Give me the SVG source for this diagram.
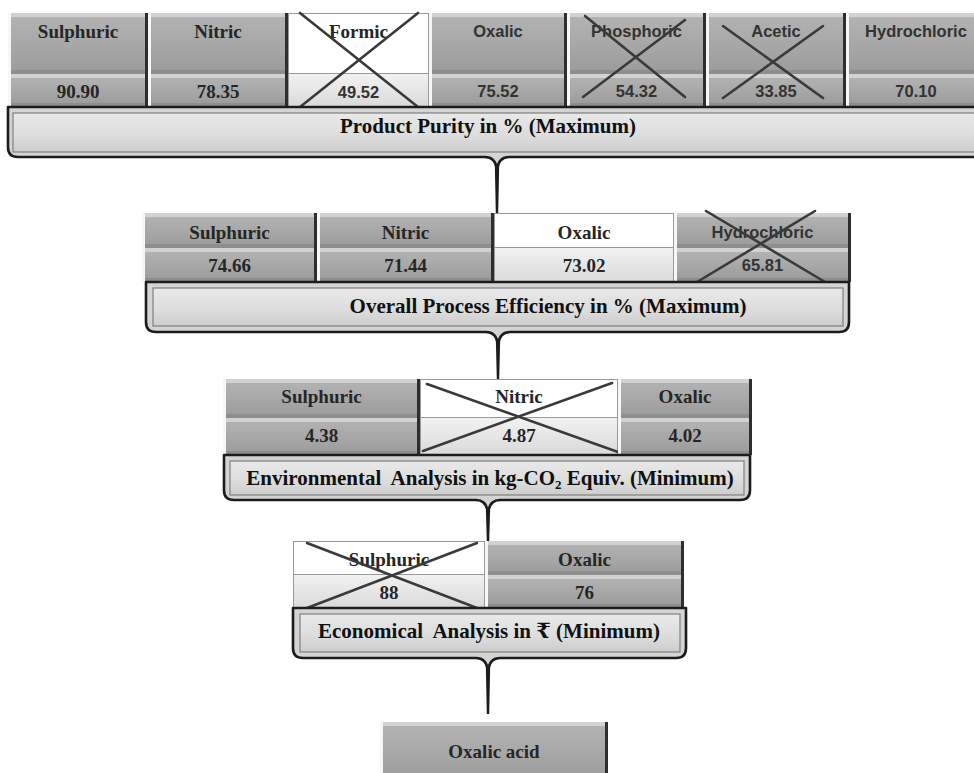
<svg xmlns="http://www.w3.org/2000/svg" width="974" height="773" viewBox="0 0 974 773">
<defs>
<linearGradient id="face" x1="0" y1="0" x2="0" y2="1"><stop offset="0" stop-color="#b2b2b2"/><stop offset="0.5" stop-color="#a8a8a8"/><stop offset="1" stop-color="#9d9d9d"/></linearGradient>
<linearGradient id="lite" x1="0" y1="0" x2="0" y2="1"><stop offset="0" stop-color="#f2f2f2"/><stop offset="1" stop-color="#dadada"/></linearGradient>
<linearGradient id="band" x1="0" y1="0" x2="0" y2="1"><stop offset="0" stop-color="#e9e9e9"/><stop offset="0.6" stop-color="#dcdcdc"/><stop offset="1" stop-color="#cdcdcd"/></linearGradient>
</defs>
<style>
.bt{fill:#d2d2d2}.bb{fill:#8e8e8e}.bl{fill:#f7f7f7}.br{fill:#2e2e2e}.fc{fill:url(#face)}
.wh{fill:#ffffff;stroke:#9a9a9a;stroke-width:1}.wv{fill:url(#lite);stroke:#9a9a9a;stroke-width:1}
.s{font-family:"Liberation Serif","Times New Roman",serif;font-weight:bold;font-size:19px;fill:#262626;text-anchor:middle}
.ss{font-family:"Liberation Sans",Arial,sans-serif;font-weight:bold;font-size:16.5px;fill:#333333;text-anchor:middle}
.bd{font-family:"Liberation Serif","Times New Roman","DejaVu Serif",serif;font-weight:bold;font-size:21px;fill:#111111;text-anchor:middle}
.x{stroke:#3a3a3a;stroke-width:2.6;stroke-linecap:round;fill:none}
.bo{fill:#d4d4d4;stroke:#1c1c1c;stroke-width:2.6;stroke-linejoin:round}
.bi{fill:url(#band);stroke:#7f7f7f;stroke-width:1.2}
.stem{fill:#1c1c1c}
</style>

<!-- Level 1 -->
<g id="l1-sulphuric">
<rect class="bt" x="8" y="13" width="140" height="61"/><rect class="bb" x="8" y="70" width="140" height="4"/><rect class="bl" x="8" y="13" width="3" height="61"/><rect class="br" x="145" y="13" width="3" height="61"/><rect class="fc" x="11" y="17" width="134" height="53"/>
<rect class="bt" x="8" y="74" width="140" height="33"/><rect class="bb" x="8" y="103" width="140" height="4"/><rect class="bl" x="8" y="74" width="3" height="33"/><rect class="br" x="145" y="74" width="3" height="33"/><rect class="fc" x="11" y="78" width="134" height="25"/>
<text class="s" x="78" y="38">Sulphuric</text><text class="s" x="78" y="98">90.90</text>
</g>
<g id="l1-nitric">
<rect class="bt" x="148" y="13" width="140" height="61"/><rect class="bb" x="148" y="70" width="140" height="4"/><rect class="bl" x="148" y="13" width="3" height="61"/><rect class="br" x="285" y="13" width="3" height="61"/><rect class="fc" x="151" y="17" width="134" height="53"/>
<rect class="bt" x="148" y="74" width="140" height="33"/><rect class="bb" x="148" y="103" width="140" height="4"/><rect class="bl" x="148" y="74" width="3" height="33"/><rect class="br" x="285" y="74" width="3" height="33"/><rect class="fc" x="151" y="78" width="134" height="25"/>
<text class="s" x="218" y="38">Nitric</text><text class="s" x="218" y="98">78.35</text>
</g>
<g id="l1-formic">
<rect class="wh" x="288.5" y="13.5" width="140" height="60"/><rect class="wv" x="288.5" y="73.5" width="140" height="33"/>
<text class="s" x="358.5" y="38">Formic</text><text class="ss" x="358.5" y="98">49.52</text>
<line class="x" x1="300" y1="13" x2="418" y2="107"/><line class="x" x1="300" y1="107" x2="418" y2="13"/>
</g>
<g id="l1-oxalic">
<rect class="bt" x="429" y="13" width="138" height="61"/><rect class="bb" x="429" y="70" width="138" height="4"/><rect class="bl" x="429" y="13" width="3" height="61"/><rect class="br" x="564" y="13" width="3" height="61"/><rect class="fc" x="432" y="17" width="132" height="53"/>
<rect class="bt" x="429" y="74" width="138" height="33"/><rect class="bb" x="429" y="103" width="138" height="4"/><rect class="bl" x="429" y="74" width="3" height="33"/><rect class="br" x="564" y="74" width="3" height="33"/><rect class="fc" x="432" y="78" width="132" height="25"/>
<text class="ss" x="498" y="37">Oxalic</text><text class="ss" x="498" y="97">75.52</text>
</g>
<g id="l1-phosphoric">
<rect class="bt" x="567" y="13" width="139" height="61"/><rect class="bb" x="567" y="70" width="139" height="4"/><rect class="bl" x="567" y="13" width="3" height="61"/><rect class="br" x="703" y="13" width="3" height="61"/><rect class="fc" x="570" y="17" width="133" height="53"/>
<rect class="bt" x="567" y="74" width="139" height="33"/><rect class="bb" x="567" y="103" width="139" height="4"/><rect class="bl" x="567" y="74" width="3" height="33"/><rect class="br" x="703" y="74" width="3" height="33"/><rect class="fc" x="570" y="78" width="133" height="25"/>
<text class="ss" x="636.5" y="37">Phosphoric</text><text class="ss" x="636.5" y="97">54.32</text>
<line class="x" x1="585" y1="16" x2="685" y2="97"/><line class="x" x1="583" y1="97" x2="685" y2="20"/>
</g>
<g id="l1-acetic">
<rect class="bt" x="706" y="13" width="140" height="61"/><rect class="bb" x="706" y="70" width="140" height="4"/><rect class="bl" x="706" y="13" width="3" height="61"/><rect class="br" x="843" y="13" width="3" height="61"/><rect class="fc" x="709" y="17" width="134" height="53"/>
<rect class="bt" x="706" y="74" width="140" height="33"/><rect class="bb" x="706" y="103" width="140" height="4"/><rect class="bl" x="706" y="74" width="3" height="33"/><rect class="br" x="843" y="74" width="3" height="33"/><rect class="fc" x="709" y="78" width="134" height="25"/>
<text class="ss" x="776" y="37">Acetic</text><text class="ss" x="776" y="97">33.85</text>
<line class="x" x1="723" y1="26" x2="823" y2="98"/><line class="x" x1="723" y1="98" x2="823" y2="26"/>
</g>
<g id="l1-hydrochloric">
<rect class="bt" x="846" y="13" width="140" height="61"/><rect class="bb" x="846" y="70" width="140" height="4"/><rect class="bl" x="846" y="13" width="3" height="61"/><rect class="fc" x="849" y="17" width="134" height="53"/>
<rect class="bt" x="846" y="74" width="140" height="33"/><rect class="bb" x="846" y="103" width="140" height="4"/><rect class="bl" x="846" y="74" width="3" height="33"/><rect class="fc" x="849" y="78" width="134" height="25"/>
<text class="ss" x="916" y="37">Hydrochloric</text><text class="ss" x="916" y="97">70.10</text>
</g>
<g id="band-purity">
<path class="bo" d="M8,107 H990 V147 Q990,157 980,157 H509 Q499,157 497,169 Q495,157 485,157 H18 Q8,157 8,147 Z"/>
<rect class="bi" x="13" y="113" width="980" height="39"/>
<text class="bd" x="488" y="133">Product Purity in % (Maximum)</text>
</g>

<!-- Level 2 -->
<g id="l2-sulphuric">
<rect class="bt" x="142" y="213" width="175" height="35"/><rect class="bb" x="142" y="244" width="175" height="4"/><rect class="bl" x="142" y="213" width="3" height="35"/><rect class="br" x="314" y="213" width="3" height="35"/><rect class="fc" x="145" y="217" width="169" height="27"/>
<rect class="bt" x="142" y="248" width="175" height="34"/><rect class="bb" x="142" y="278" width="175" height="4"/><rect class="bl" x="142" y="248" width="3" height="34"/><rect class="br" x="314" y="248" width="3" height="34"/><rect class="fc" x="145" y="252" width="169" height="26"/>
<text class="s" x="229.5" y="239">Sulphuric</text><text class="s" x="229.5" y="272">74.66</text>
</g>
<g id="l2-nitric">
<rect class="bt" x="317" y="213" width="177" height="35"/><rect class="bb" x="317" y="244" width="177" height="4"/><rect class="bl" x="317" y="213" width="3" height="35"/><rect class="br" x="491" y="213" width="3" height="35"/><rect class="fc" x="320" y="217" width="171" height="27"/>
<rect class="bt" x="317" y="248" width="177" height="34"/><rect class="bb" x="317" y="278" width="177" height="4"/><rect class="bl" x="317" y="248" width="3" height="34"/><rect class="br" x="491" y="248" width="3" height="34"/><rect class="fc" x="320" y="252" width="171" height="26"/>
<text class="s" x="405.5" y="239">Nitric</text><text class="s" x="405.5" y="272">71.44</text>
</g>
<g id="l2-oxalic">
<rect class="wh" x="494.5" y="213.5" width="179" height="34"/><rect class="wv" x="494.5" y="247.5" width="179" height="34"/>
<text class="s" x="584" y="239">Oxalic</text><text class="s" x="584" y="272">73.02</text>
</g>
<g id="l2-hydrochloric">
<rect class="bt" x="674" y="213" width="177" height="35"/><rect class="bb" x="674" y="244" width="177" height="4"/><rect class="bl" x="674" y="213" width="3" height="35"/><rect class="br" x="848" y="213" width="3" height="35"/><rect class="fc" x="677" y="217" width="171" height="27"/>
<rect class="bt" x="674" y="248" width="177" height="34"/><rect class="bb" x="674" y="278" width="177" height="4"/><rect class="bl" x="674" y="248" width="3" height="34"/><rect class="br" x="848" y="248" width="3" height="34"/><rect class="fc" x="677" y="252" width="171" height="26"/>
<text class="ss" x="762.5" y="238">Hydrochloric</text><text class="ss" x="762.5" y="271">65.81</text>
<line class="x" x1="706" y1="211" x2="825" y2="282"/><line class="x" x1="697" y1="282" x2="815" y2="211"/>
</g>
<g id="band-efficiency">
<path class="bo" d="M146,282 H849 V322 Q849,332 839,332 H510 Q500,332 498,344 Q496,332 486,332 H156 Q146,332 146,322 Z"/>
<rect class="bi" x="153" y="288" width="690" height="38"/>
<text class="bd" x="548" y="313">Overall Process Efficiency in % (Maximum)</text>
</g>

<!-- Level 3 -->
<g id="l3-sulphuric">
<rect class="bt" x="223" y="379" width="197" height="39"/><rect class="bb" x="223" y="414" width="197" height="4"/><rect class="bl" x="223" y="379" width="3" height="39"/><rect class="br" x="417" y="379" width="3" height="39"/><rect class="fc" x="226" y="383" width="191" height="31"/>
<rect class="bt" x="223" y="418" width="197" height="37"/><rect class="bb" x="223" y="451" width="197" height="4"/><rect class="bl" x="223" y="418" width="3" height="37"/><rect class="br" x="417" y="418" width="3" height="37"/><rect class="fc" x="226" y="422" width="191" height="29"/>
<text class="s" x="321.5" y="403">Sulphuric</text><text class="s" x="321.5" y="442">4.38</text>
</g>
<g id="l3-nitric">
<rect class="wh" x="420.5" y="379.5" width="197" height="38"/><rect class="wv" x="420.5" y="417.5" width="197" height="37"/>
<text class="s" x="519" y="403">Nitric</text><text class="s" x="519" y="442">4.87</text>
<line class="x" x1="427" y1="384" x2="618" y2="452"/><line class="x" x1="423" y1="451" x2="612" y2="383"/>
</g>
<g id="l3-oxalic">
<rect class="bt" x="618" y="379" width="134" height="39"/><rect class="bb" x="618" y="414" width="134" height="4"/><rect class="bl" x="618" y="379" width="3" height="39"/><rect class="br" x="749" y="379" width="3" height="39"/><rect class="fc" x="621" y="383" width="128" height="31"/>
<rect class="bt" x="618" y="418" width="134" height="37"/><rect class="bb" x="618" y="451" width="134" height="4"/><rect class="bl" x="618" y="418" width="3" height="37"/><rect class="br" x="749" y="418" width="3" height="37"/><rect class="fc" x="621" y="422" width="128" height="29"/>
<text class="s" x="685" y="403">Oxalic</text><text class="s" x="685" y="442">4.02</text>
</g>
<g id="band-environmental">
<path class="bo" d="M224,455 H750 V490 Q750,500 740,500 H500 Q490,500 488,512 Q486,500 476,500 H234 Q224,500 224,490 Z"/>
<rect class="bi" x="230" y="461" width="514" height="34"/>
<text class="bd" x="490" y="485" xml:space="preserve">Environmental  Analysis in kg-CO<tspan font-size="13" dy="4">2</tspan><tspan dy="-4"> Equiv. (Minimum)</tspan></text>
</g>

<!-- Level 4 -->
<g id="l4-sulphuric">
<rect class="wh" x="293.5" y="541.5" width="191" height="33"/><rect class="wv" x="293.5" y="574.5" width="191" height="33"/>
<text class="s" x="389" y="566">Sulphuric</text><text class="s" x="389" y="599">88</text>
<line class="x" x1="307" y1="543" x2="477" y2="608"/><line class="x" x1="307" y1="608" x2="477" y2="543"/>
</g>
<g id="l4-oxalic">
<rect class="bt" x="485" y="541" width="199" height="34"/><rect class="bb" x="485" y="571" width="199" height="4"/><rect class="bl" x="485" y="541" width="3" height="34"/><rect class="br" x="681" y="541" width="3" height="34"/><rect class="fc" x="488" y="545" width="193" height="26"/>
<rect class="bt" x="485" y="575" width="199" height="33"/><rect class="bb" x="485" y="604" width="199" height="4"/><rect class="bl" x="485" y="575" width="3" height="33"/><rect class="br" x="681" y="575" width="3" height="33"/><rect class="fc" x="488" y="579" width="193" height="25"/>
<text class="s" x="584.5" y="566">Oxalic</text><text class="s" x="584.5" y="599">76</text>
</g>
<g id="band-economical">
<path class="bo" d="M293,608 H686 V648 Q686,658 676,658 H500 Q490,658 488,670 Q486,658 476,658 H303 Q293,658 293,648 Z"/>
<rect class="bi" x="300" y="614" width="380" height="38"/>
<text class="bd" x="489" y="638" xml:space="preserve">Economical  Analysis in ₹ (Minimum)</text>
</g>

<!-- Result -->
<g id="result-oxalic-acid">
<rect class="bt" x="380" y="722" width="228" height="60"/><rect class="bl" x="380" y="722" width="3" height="60"/><rect class="br" x="605" y="722" width="3" height="60"/><rect class="fc" x="383" y="726" width="222" height="52"/>
<text class="s" x="494" y="758">Oxalic acid</text>
</g>

<g id="connectors">
<path class="stem" d="M494.8,164 H499.2 L498.2,213 H495.8 Z"/>
<path class="stem" d="M495.8,339 H500.2 L499.2,379 H496.8 Z"/>
<path class="stem" d="M485.8,507 H490.2 L489.2,541 H486.8 Z"/>
<path class="stem" d="M485.8,665 H490.2 L489.2,714 H486.8 Z"/>
</g>
</svg>
